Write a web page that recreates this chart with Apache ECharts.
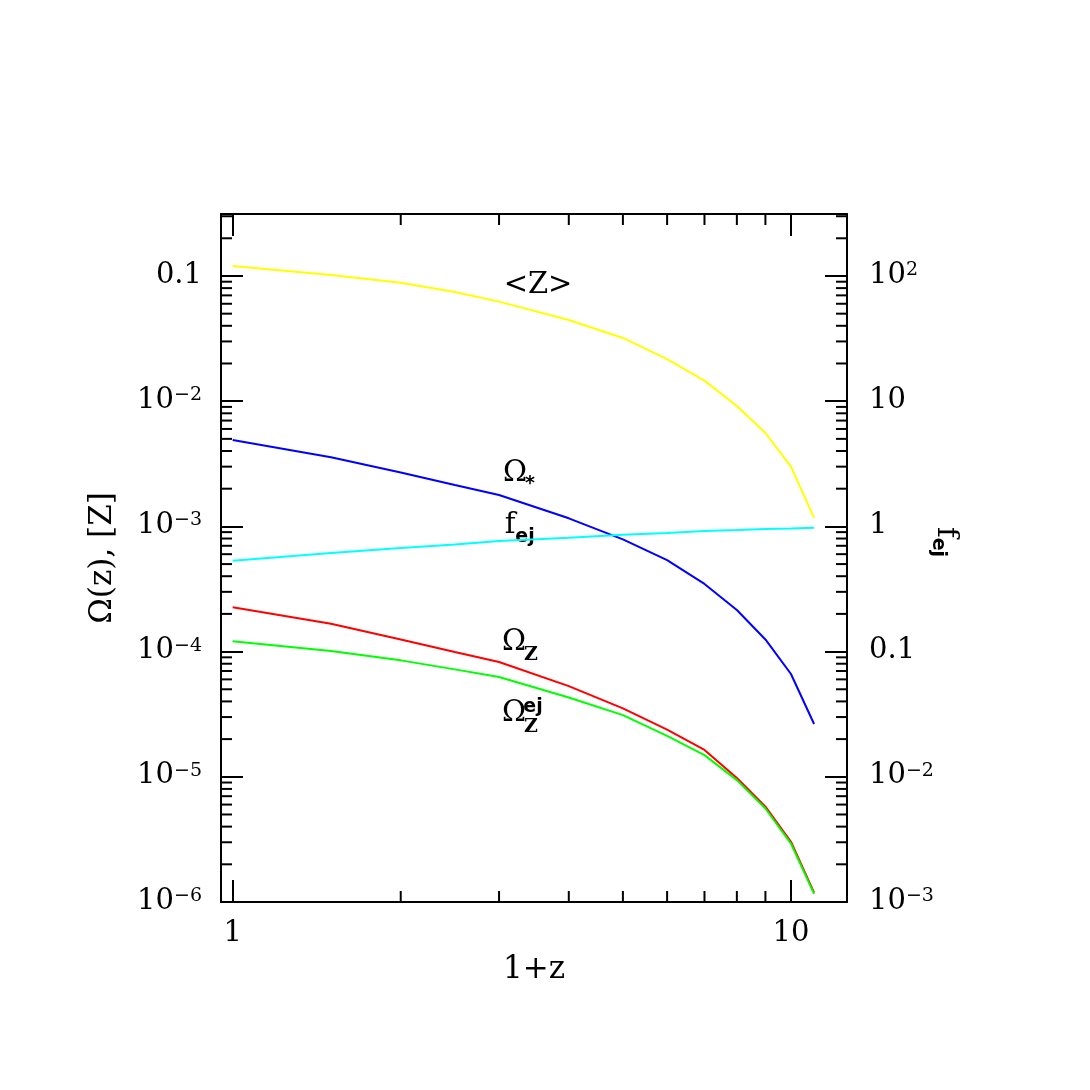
<!DOCTYPE html>
<html>
<head>
<meta charset="utf-8">
<script src="https://cdn.jsdelivr.net/npm/echarts@6/dist/echarts.min.js"></script>
<style>
  html, body { margin: 0; padding: 0; background: #fff; }
  #main { width: 1090px; height: 1090px; }
</style>
</head>
<body>
<div id="main"></div>
<script>
// 1+z sample points
const onePlusZ = [1, 1.5, 2, 2.5, 3, 4, 5, 6, 7, 8, 9, 10, 11];
// <Z>  (left axis)
const meanZ = [0.120, 0.102, 0.0883, 0.0745, 0.0624, 0.0445, 0.0320, 0.0217, 0.0146, 0.00916, 0.00557, 0.00300, 0.00117];
// Omega_* (left axis)
const omegaStar = [0.00490, 0.00357, 0.00269, 0.00214, 0.00178, 0.00116, 0.000787, 0.000537, 0.000347, 0.000215, 0.000125, 0.0000662, 0.0000264];
// f_ej (right axis)
const fEj = [0.532, 0.614, 0.671, 0.716, 0.764, 0.811, 0.859, 0.885, 0.918, 0.935, 0.953, 0.962, 0.977];
// Omega_Z (left axis)
const omegaZ = [2.26e-4, 1.67e-4, 1.25e-4, 9.93e-5, 8.26e-5, 5.30e-5, 3.52e-5, 2.38e-5, 1.64e-5, 9.8e-6, 5.77e-6, 3.03e-6, 1.19e-6];
// Omega_Z^ej (left axis)
const omegaZej = [1.21e-4, 1.01e-4, 8.51e-5, 7.21e-5, 6.27e-5, 4.30e-5, 3.11e-5, 2.12e-5, 1.49e-5, 9.4e-6, 5.58e-6, 2.93e-6, 1.16e-6];

const xTickValues = [1, 10];
const xTickLabels = ['1', '10'];
const leftTickValues = [1e-6, 1e-5, 1e-4, 1e-3, 1e-2, 0.1];
const leftTickLabels = ['10^−6', '10^−5', '10^−4', '10^−3', '10^−2', '0.1'];
const rightTickValues = [1e-3, 1e-2, 0.1, 1, 10, 100];
const rightTickLabels = ['10^−3', '10^−2', '0.1', '1', '10', '10^2'];
const xMinorTicks = [2, 3, 4, 5, 6, 7, 8, 9];
const yMinorTicks = [
  2e-6, 3e-6, 4e-6, 5e-6, 6e-6, 7e-6, 8e-6, 9e-6,
  2e-5, 3e-5, 4e-5, 5e-5, 6e-5, 7e-5, 8e-5, 9e-5,
  2e-4, 3e-4, 4e-4, 5e-4, 6e-4, 7e-4, 8e-4, 9e-4,
  2e-3, 3e-3, 4e-3, 5e-3, 6e-3, 7e-3, 8e-3, 9e-3,
  0.02, 0.03, 0.04, 0.05, 0.06, 0.07, 0.08, 0.09,
  0.2, 0.3
];

const X_MIN = 0.953, X_MAX = 12.6;
const Y_MIN = 1e-6, Y_MAX = 0.3126;
const SERIF = '"DejaVu Serif", serif';
const SANS = '"DejaVu Sans", sans-serif';

const tickRich = {
  b: { fontSize: 29, fontFamily: SERIF, color: '#000', verticalAlign: 'top', lineHeight: 31 },
  sup: { fontSize: 19, fontFamily: SERIF, color: '#000', verticalAlign: 'top', lineHeight: 22 }
};

function tickFormatter (values, labels) {
  return function (v) {
    for (let i = 0; i < values.length; i++) {
      if (Math.abs(Math.log10(v) - Math.log10(values[i])) < 1e-6) {
        const parts = labels[i].split('^');
        return '{b|' + parts[0] + '}' + (parts[1] ? '{sup|' + parts[1] + '}' : '');
      }
    }
    return '';
  };
}

const axisLineStyle = { show: true, onZero: false, lineStyle: { color: '#000', width: 2 } };
const majorTick = { show: true, inside: true, length: 22, lineStyle: { color: '#000', width: 2 } };

function minorTicks (isX) {
  return function (params, api) {
    const v = api.value(isX ? 0 : 1);
    const a = isX ? api.coord([v, Y_MIN]) : api.coord([X_MIN, v]);
    const b = isX ? api.coord([v, Y_MAX]) : api.coord([X_MAX, v]);
    const L = 11;
    const style = { stroke: '#000', lineWidth: 2 };
    const children = isX ? [
      { type: 'line', shape: { x1: a[0], y1: a[1], x2: a[0], y2: a[1] - L }, style: style },
      { type: 'line', shape: { x1: b[0], y1: b[1], x2: b[0], y2: b[1] + L }, style: style }
    ] : [
      { type: 'line', shape: { x1: a[0], y1: a[1], x2: a[0] + L, y2: a[1] }, style: style },
      { type: 'line', shape: { x1: b[0], y1: b[1], x2: b[0] - L, y2: b[1] }, style: style }
    ];
    return { type: 'group', children: children };
  };
}

function curve (name, values, color, yAxisIndex) {
  return {
    name: name,
    type: 'line',
    yAxisIndex: yAxisIndex,
    showSymbol: false,
    smooth: false,
    clip: false,
    lineStyle: { color: color, width: 2 },
    data: onePlusZ.map(function (x, i) { return [x, values[i]]; })
  };
}

function txt (x, y, text, size, family, weight) {
  return {
    type: 'text', x: x, y: y,
    style: { text: text, fontSize: size, fontFamily: family, fontWeight: weight || 'normal',
      fill: '#000', align: 'center', verticalAlign: 'middle' }
  };
}

const chart = echarts.init(document.getElementById('main'));
chart.setOption({
  animation: false,
  backgroundColor: '#fff',
  grid: { left: 221, right: 243, top: 214, bottom: 188, containLabel: false, outerBoundsMode: 'none' },
  xAxis: [
    {
      type: 'log', min: X_MIN, max: X_MAX, position: 'bottom',
      axisLine: axisLineStyle, axisTick: majorTick, splitLine: { show: false },
      axisLabel: { margin: 17, formatter: tickFormatter(xTickValues, xTickLabels), rich: tickRich },
      name: '1+z', nameLocation: 'middle', nameGap: 52, nameMoveOverlap: false,
      nameTextStyle: { fontSize: 31, fontFamily: SERIF, color: '#000' }
    },
    {
      type: 'log', min: X_MIN, max: X_MAX, position: 'top',
      axisLine: axisLineStyle, axisTick: majorTick, splitLine: { show: false },
      axisLabel: { show: false }
    }
  ],
  yAxis: [
    {
      type: 'log', min: Y_MIN, max: Y_MAX, position: 'left',
      axisLine: axisLineStyle, axisTick: majorTick, splitLine: { show: false },
      axisLabel: { margin: 19, formatter: tickFormatter(leftTickValues, leftTickLabels), rich: tickRich },
      name: 'Ω(z), [Z]', nameLocation: 'middle', nameGap: 103, nameMoveOverlap: false,
      nameTextStyle: { fontSize: 31, fontFamily: SERIF, color: '#000' }
    },
    {
      type: 'log', min: Y_MIN * 1000, max: Y_MAX * 1000, position: 'right',
      axisLine: axisLineStyle, axisTick: majorTick, splitLine: { show: false },
      axisLabel: { margin: 22, formatter: tickFormatter(rightTickValues, rightTickLabels), rich: tickRich },
      name: '{f|f}{s|ej}', nameLocation: 'middle', nameGap: 82, nameRotate: -90, nameMoveOverlap: false,
      nameTextStyle: {
        color: '#000',
        padding: [0, 32, 0, 0],
        rich: {
          f: { fontSize: 29, fontFamily: SERIF, color: '#000', verticalAlign: 'top', lineHeight: 31 },
          s: { fontSize: 19, fontFamily: SANS, fontWeight: 'bold', color: '#000', verticalAlign: 'top', lineHeight: 19, padding: [13, 0, 0, 0] }
        }
      }
    }
  ],
  series: [
    {
      type: 'custom', renderItem: minorTicks(true), clip: false, silent: true,
      data: xMinorTicks.map(function (v) { return [v, Y_MIN]; })
    },
    {
      type: 'custom', renderItem: minorTicks(false), clip: false, silent: true,
      data: yMinorTicks.map(function (v) { return [X_MIN, v]; })
    },
    curve('<Z>', meanZ, '#ffff00', 0),
    curve('Ω*', omegaStar, '#0000ff', 0),
    curve('f_ej', fEj, '#00ffff', 1),
    curve('Ω_Z', omegaZ, '#ff0000', 0),
    curve('Ω_Z^ej', omegaZej, '#00ff00', 0)
  ],
  graphic: [
    txt(538, 285, '<Z>', 29, SERIF),
    txt(515, 473, 'Ω', 29, SERIF),
    txt(530, 484, '*', 19, SANS, 'bold'),
    txt(510, 525, 'f', 29, SERIF),
    txt(525, 537, 'ej', 19, SANS, 'bold'),
    txt(514, 642, 'Ω', 29, SERIF),
    txt(531, 655, 'Z', 19, SERIF, 'bold'),
    txt(514, 713, 'Ω', 29, SERIF),
    txt(533, 707, 'ej', 19, SANS, 'bold'),
    txt(531, 727, 'Z', 19, SERIF, 'bold')
  ]
});
</script>
</body>
</html>
